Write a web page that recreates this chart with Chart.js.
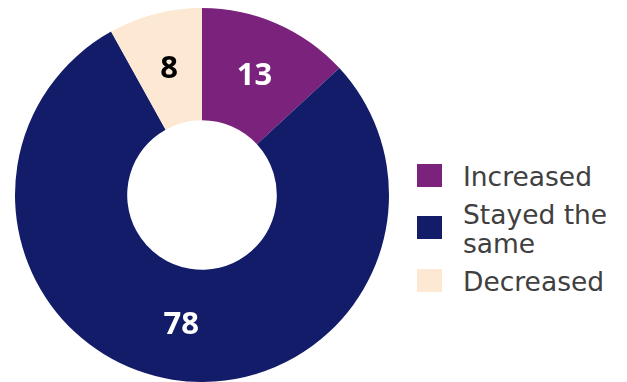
<!DOCTYPE html>
<html>
<head>
<meta charset="utf-8">
<script src="https://cdn.jsdelivr.net/npm/chart.js@4/dist/chart.umd.min.js"></script>
<style>
  html, body { margin: 0; padding: 0; background: #fff; }
  #wrap { position: relative; width: 627px; height: 382px; overflow: hidden; }
  #pie { position: absolute; left: 0; top: 0; }
  #legend { position: absolute; left: 417px; top: 162px; margin: 0; padding: 0; list-style: none; }
  #legend li { display: flex; align-items: center; margin-bottom: 9px; }
  #legend .box { width: 25px; height: 23px; flex: none; margin-top: -3px; }
  #legend .txt {
    margin-left: 21px; width: 156px;
    font: 26.5px "DejaVu Sans", Verdana, sans-serif; line-height: 29px; color: #404040;
  }
</style>
</head>
<body>
<div id="wrap">
  <canvas id="pie" width="404" height="382"></canvas>
  <ul id="legend"></ul>
</div>
<script>
(function () {
  "use strict";

  const categories = ['Increased', 'Stayed the same', 'Decreased'];
  const values = [13, 78, 8];
  const colors = ['#7a227c', '#131c68', '#fde8d4'];
  const labelColors = ['#ffffff', '#ffffff', '#000000'];

  // slice values written inside each arc
  const sliceLabels = {
    id: 'sliceLabels',
    afterDatasetsDraw(chart) {
      const ctx = chart.ctx;
      const meta = chart.getDatasetMeta(0);
      ctx.save();
      ctx.font = 'bold 31px "Open Sans", Lato, sans-serif';
      ctx.textAlign = 'center';
      ctx.textBaseline = 'middle';
      meta.data.forEach((arc, i) => {
        const p = arc.tooltipPosition();
        ctx.fillStyle = labelColors[i];
        ctx.fillText(String(values[i]), p.x, p.y + 1);
      });
      ctx.restore();
    }
  };

  // legend built as html so the long label can wrap
  const htmlLegend = {
    id: 'htmlLegend',
    afterUpdate(chart) {
      const ul = document.getElementById('legend');
      ul.innerHTML = '';
      const items = chart.options.plugins.legend.labels.generateLabels(chart);
      items.forEach(item => {
        const li = document.createElement('li');
        const box = document.createElement('span');
        box.className = 'box';
        box.style.background = item.fillStyle;
        const txt = document.createElement('span');
        txt.className = 'txt';
        txt.textContent = item.text;
        li.appendChild(box);
        li.appendChild(txt);
        ul.appendChild(li);
      });
    }
  };

  new Chart(document.getElementById('pie'), {
    type: 'doughnut',
    data: {
      labels: categories,
      datasets: [{
        data: values,
        backgroundColor: colors,
        borderWidth: 0,
        hoverOffset: 0
      }]
    },
    options: {
      responsive: false,
      animation: false,
      cutout: '40%',
      layout: { padding: { top: 8 } },
      events: [],
      plugins: {
        legend: { display: false },
        tooltip: { enabled: false }
      }
    },
    plugins: [sliceLabels, htmlLegend]
  });
})();
</script>
</body>
</html>
